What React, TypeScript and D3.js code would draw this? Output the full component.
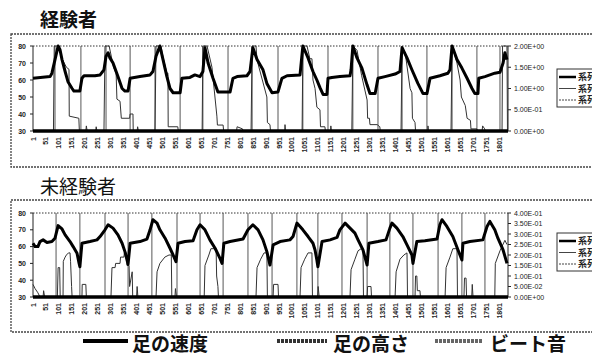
import React from 'react';
import * as d3 from 'd3';

type Pt = [number, number];

// axis values
const xTicks = d3.range(1, 1802, 50);
const leftTicks = [30, 40, 50, 60, 70, 80];
const topRightTicks = [0, 0.5, 1, 1.5, 2];
const bottomRightTicks = [0, 0.05, 0.1, 0.15, 0.2, 0.25, 0.3, 0.35, 0.4];
const seriesNames = ['系列1', '系列2', '系列3'];
const legendLabels = ['足の速度', '足の高さ', 'ビート音'];

// 経験者 : thick curve (left axis)
const topHeight: Pt[] = [
  [1, 61], [67, 62], [74, 64], [86, 72], [98, 80], [105, 78], [113, 72], [125, 65], [136, 59], [152, 55], [159, 53.5], [182, 53.5],
  [190, 61], [198, 62.5], [240, 62.5], [260, 63], [275, 66], [283, 74], [291, 76],
  [298, 73], [310, 70], [329, 62], [345, 55], [356, 53.5], [368, 53.5], [376, 61], [414, 62], [453, 63], [464, 65], [476, 74], [491, 80],
  [503, 72], [518, 62], [530, 55], [542, 52.5], [569, 52.5], [576, 61], [607, 61.5], [626, 63], [646, 62], [657, 65], [665, 79],
  [677, 70], [696, 61], [715, 53], [762, 53], [773, 61], [789, 62], [827, 62.5], [839, 65], [850, 79],
  [866, 72], [889, 66], [904, 58], [924, 52.5], [947, 53], [962, 61], [982, 62.5], [1032, 63], [1043, 80],
  [1063, 73], [1082, 65], [1097, 60], [1109, 55.5], [1121, 51.5], [1136, 51.5], [1140, 61], [1155, 61.5], [1186, 62], [1225, 62.5], [1229, 66], [1236, 80],
  [1252, 73], [1271, 67], [1291, 57], [1302, 52], [1322, 52], [1333, 61], [1360, 62], [1399, 63.5], [1418, 65], [1426, 79],
  [1445, 73], [1464, 66], [1487, 58], [1507, 52], [1522, 52], [1534, 61], [1572, 62.5], [1603, 64], [1611, 66], [1619, 80],
  [1638, 72], [1657, 67], [1677, 61], [1696, 55], [1707, 52], [1719, 52], [1722, 61], [1746, 62], [1784, 64], [1804, 64.5],
  [1816, 70], [1823, 76], [1831, 72],
];

// 経験者 : thin series (right axis)
const topSpeed: Pt[] = [
  [1, 0], [80, 0], [83, 2], [101, 2], [113, 1.7], [130, 1.5], [140, 1.45], [141, 0.35], [178, 0.3], [180, 0],
  [205, 0], [207, 0.12], [210, 0], [243, 0], [245, 0.1], [248, 0],
  [275, 0], [279, 2], [295, 2], [312, 1.5], [322, 1.35], [325, 0.75], [337, 0.7], [342, 0.3], [374, 0.3], [376, 0.4], [387, 0.4], [388, 0],
  [403, 0], [405, 0.1], [408, 0],
  [472, 0], [476, 2], [495, 2], [503, 1.74], [518, 1.36], [522, 1.36], [523, 0.1], [560, 0.1], [562, 0],
  [654, 0], [657, 2], [673, 2], [692, 1.5], [711, 0.35], [713, 0.14], [735, 0.14], [737, 0],
  [787, 0], [789, 0.1], [810, 0.05], [812, 0],
  [843, 0], [847, 2], [862, 2], [866, 1.67], [904, 0.8], [906, 0.2], [916, 0.15], [918, 0],
  [973, 0], [974, 0.15], [976, 0],
  [1040, 0], [1043, 2], [1059, 2], [1070, 1.7], [1078, 1.7], [1082, 1.2], [1090, 1.0], [1097, 0.56], [1109, 0.5], [1111, 0.1], [1128, 0.1], [1130, 0],
  [1150, 0], [1151, 0.12], [1153, 0],
  [1232, 0], [1236, 2], [1252, 1.9], [1270, 1.3], [1291, 0.73], [1293, 0.3], [1300, 0.3], [1302, 0.15], [1330, 0.15], [1340, 0.1], [1342, 0],
  [1422, 0], [1426, 2], [1440, 1.75], [1457, 1.0], [1464, 0.9], [1466, 0.3], [1476, 0.2], [1478, 0],
  [1525, 0], [1526, 0.12], [1528, 0],
  [1615, 0], [1619, 2], [1638, 1.6], [1650, 1.2], [1655, 0.8], [1670, 0.6], [1677, 0.3], [1690, 0.25], [1692, 0.05], [1715, 0.05], [1717, 0],
  [1735, 0], [1737, 0.12], [1745, 0.05], [1747, 0],
  [1812, 0], [1814, 2], [1831, 2], [1833, 0],
];

const topBeats = [86, 186, 283, 376, 472, 569, 657, 754, 847, 947, 1043, 1140, 1236, 1333, 1426, 1522, 1619, 1715, 1804];

// 未経験者 : thick curve (left axis)
const bottomHeight: Pt[] = [
  [1, 62], [9, 60], [20, 60], [28, 63], [40, 64], [55, 62.5], [74, 63], [86, 65], [98, 72.5],
  [113, 70.5], [125, 67], [144, 63], [156, 60], [171, 56], [179, 50], [182, 48], [190, 62], [221, 63], [248, 64], [260, 66], [279, 70], [291, 73],
  [310, 71], [329, 67], [345, 62], [356, 57], [368, 49.5], [376, 62], [414, 63], [441, 64.5], [453, 70], [464, 76],
  [480, 74], [491, 70], [511, 65], [530, 59], [542, 55], [553, 51], [561, 62], [588, 63], [619, 63.5], [634, 70], [646, 73],
  [665, 70], [684, 64], [704, 59], [723, 53], [731, 50], [738, 62], [762, 63], [812, 64.5], [831, 70], [850, 73],
  [870, 70], [889, 64], [904, 57], [916, 49], [928, 61], [955, 63], [993, 64], [1005, 66], [1020, 74],
  [1032, 72], [1043, 70], [1063, 66], [1082, 62], [1090, 58], [1097, 52], [1101, 48], [1117, 63], [1148, 64], [1175, 65.5], [1186, 70], [1206, 74],
  [1225, 71], [1244, 68], [1256, 64], [1275, 58], [1291, 49], [1298, 62], [1333, 63], [1364, 64], [1379, 71], [1387, 74],
  [1406, 71], [1429, 66], [1445, 61], [1464, 55], [1468, 50], [1483, 63], [1514, 63.5], [1561, 64.5], [1572, 73], [1580, 76],
  [1599, 72], [1622, 66], [1642, 58], [1657, 52], [1661, 62], [1688, 63], [1738, 64], [1754, 72], [1765, 75],
  [1784, 70], [1796, 65], [1816, 58], [1831, 50],
];

// 未経験者 : thin series (right axis)
const bottomSpeed: Pt[] = [
  [1, 0.06], [9, 0.04], [20, 0.02], [28, 0], [40, 0], [42, 0.03], [46, 0],
  [95, 0], [98, 0.14], [104, 0.14], [106, 0], [117, 0], [118, 0.17], [125, 0.19], [130, 0.2], [138, 0.21], [144, 0.21], [146, 0.17], [150, 0.05], [152, 0],
  [190, 0], [191, 0.06], [205, 0.06], [207, 0],
  [302, 0], [306, 0.14], [318, 0.14], [320, 0.16], [337, 0.16], [339, 0.19], [352, 0.19], [354, 0.21], [362, 0.21], [364, 0.15], [372, 0.15], [374, 0.05], [384, 0.12], [386, 0],
  [401, 0], [403, 0.05], [406, 0],
  [476, 0], [480, 0.12], [491, 0.16], [510, 0.19], [526, 0.2], [535, 0.2], [537, 0], [549, 0], [551, 0.04], [555, 0],
  [662, 0], [665, 0.15], [680, 0.2], [688, 0.23], [708, 0.23], [710, 0.1], [715, 0.05], [717, 0],
  [862, 0], [866, 0.14], [880, 0.18], [893, 0.21], [904, 0.21], [906, 0], [928, 0], [930, 0.06], [947, 0.06], [949, 0],
  [1032, 0], [1036, 0.14], [1050, 0.18], [1063, 0.21], [1078, 0.21], [1080, 0], [1100, 0], [1102, 0.05], [1106, 0],
  [1225, 0], [1229, 0.13], [1244, 0.18], [1256, 0.22], [1268, 0.23], [1275, 0.23], [1277, 0], [1291, 0], [1293, 0.05], [1306, 0.05], [1308, 0],
  [1399, 0], [1403, 0.12], [1418, 0.18], [1433, 0.2], [1445, 0.21], [1447, 0], [1476, 0], [1478, 0.1], [1483, 0.1], [1485, 0.03], [1495, 0.03], [1497, 0],
  [1592, 0], [1596, 0.14], [1611, 0.19], [1622, 0.23], [1638, 0.23], [1640, 0], [1665, 0], [1667, 0.09], [1673, 0.09], [1675, 0], [1695, 0], [1697, 0.06], [1700, 0],
  [1784, 0], [1786, 0.16], [1804, 0.22], [1823, 0.27], [1831, 0.25],
];

const bottomBeats = [90, 182, 279, 368, 460, 557, 646, 735, 831, 924, 1020, 1101, 1194, 1291, 1379, 1468, 1565, 1657, 1746];

const NUM_FONT = '"Liberation Sans", Arial, sans-serif';
const JP_FONT = '"Noto Sans CJK JP", "Noto Sans", sans-serif';

const sci = (v: number) => {
  const [m, e] = v.toExponential(2).split('e');
  return m + 'E' + e[0] + e.slice(1).padStart(2, '0');
};

const x = d3.scaleLinear().domain([1, 1835]).range([33, 508]);

function Panel(props: {
  boxTop: number; boxBottom: number; plotTop: number; plotBottom: number;
  title: string; bold: boolean; titleY: number; legendTop: number;
  height: Pt[]; speed: Pt[]; beats: number[]; rightMax: number; rightTicks: number[];
}) {
  const { boxTop, boxBottom, plotTop, plotBottom, title, bold, titleY, legendTop, height, speed, beats, rightMax, rightTicks } = props;
  const yL = d3.scaleLinear().domain([30, 80]).range([plotBottom, plotTop]);
  const yR = d3.scaleLinear().domain([0, rightMax]).range([plotBottom, plotTop]);
  const lineL = d3.line<Pt>().x(d => x(d[0])).y(d => yL(d[1]));
  const lineR = d3.line<Pt>().x(d => x(d[0])).y(d => yR(d[1]));
  const [x0, x1] = x.range();

  return (
    <g>
      <text x={40} y={titleY} fontFamily={JP_FONT} fontSize={19} fontWeight={bold ? 700 : 400} fill="#111">{title}</text>
      <rect x={11} y={boxTop} width={600} height={boxBottom - boxTop} fill="none" stroke="#444" strokeWidth={1.3} strokeDasharray="2 1" />

      {/* plot frame */}
      <line x1={x0} x2={x1} y1={plotTop} y2={plotTop} stroke="#333" strokeWidth={1} strokeDasharray="1.5 1.5" />
      <line x1={x0} x2={x0} y1={plotTop} y2={plotBottom} stroke="#222" strokeWidth={1} />
      <line x1={x1} x2={x1} y1={plotTop} y2={plotBottom} stroke="#222" strokeWidth={1} />

      {/* beat lines */}
      {beats.map((b, i) => (
        <line key={i} x1={x(b)} x2={x(b)} y1={yR(0)} y2={yR(rightMax)} stroke="#444" strokeWidth={0.9} />
      ))}

      <path d={lineR(speed) ?? ''} fill="none" stroke="#333" strokeWidth={1} />
      <path d={lineL(height) ?? ''} fill="none" stroke="#000" strokeWidth={3} strokeLinejoin="round" />

      {/* bottom axis */}
      <line x1={x0} x2={x1} y1={plotBottom} y2={plotBottom} stroke="#000" strokeWidth={3.5} />
      {xTicks.map(t => (
        <text key={t} transform={`translate(${x(t) + 2.5},${plotBottom + 6}) rotate(-90)`} textAnchor="end"
          fontFamily={NUM_FONT} fontSize={7} fontWeight={700} fill="#222">{t}</text>
      ))}

      {/* left axis */}
      {leftTicks.map(t => (
        <g key={t}>
          <line x1={x0 - 3} x2={x0} y1={yL(t)} y2={yL(t)} stroke="#222" />
          <text x={26} y={yL(t) + 2.5} textAnchor="end" fontFamily={NUM_FONT} fontSize={7} fontWeight={700} fill="#222">{t}</text>
        </g>
      ))}

      {/* right axis */}
      {rightTicks.map(t => (
        <g key={t}>
          <line x1={x1} x2={x1 + 3} y1={yR(t)} y2={yR(t)} stroke="#222" />
          <text x={514} y={yR(t) + 2.5} fontFamily={NUM_FONT} fontSize={7} fill="#222">{sci(t)}</text>
        </g>
      ))}

      {/* series legend */}
      <rect x={557} y={legendTop} width={60} height={38} fill="#fff" stroke="#333" strokeWidth={1} />
      {seriesNames.map((s, i) => (
        <g key={s}>
          <line x1={559} x2={576} y1={legendTop + 8 + i * 11.5} y2={legendTop + 8 + i * 11.5}
            stroke={i === 0 ? '#000' : '#444'} strokeWidth={i === 0 ? 2.5 : 1} strokeDasharray={i === 2 ? '2 1' : undefined} />
          <text x={578} y={legendTop + 11 + i * 11.5} fontFamily={JP_FONT} fontSize={9} fontWeight={700} fill="#222">{s}</text>
        </g>
      ))}
    </g>
  );
}

export default function App() {
  const legendSamples = [
    { x1: 83, x2: 128, tx: 132, color: '#000', dash: undefined as string | undefined },
    { x1: 277, x2: 327, tx: 333, color: '#333', dash: '3 1' },
    { x1: 435, x2: 483, tx: 490, color: '#666', dash: '3 1' },
  ];
  return (
    <svg width={592} height={353} style={{ position: 'absolute', left: 0, top: 0, background: '#fff' }}>
      <Panel boxTop={34} boxBottom={167} plotTop={46} plotBottom={131} title="経験者" bold titleY={27} legendTop={69}
        height={topHeight} speed={topSpeed} beats={topBeats} rightMax={2} rightTicks={topRightTicks} />
      <Panel boxTop={200} boxBottom={332} plotTop={213} plotBottom={297} title="未経験者" bold={false} titleY={194} legendTop={233}
        height={bottomHeight} speed={bottomSpeed} beats={bottomBeats} rightMax={0.4} rightTicks={bottomRightTicks} />
      {legendLabels.map((l, i) => (
        <g key={l}>
          <line x1={legendSamples[i].x1} x2={legendSamples[i].x2} y1={341} y2={341}
            stroke={legendSamples[i].color} strokeWidth={4} strokeDasharray={legendSamples[i].dash} />
          <text x={legendSamples[i].tx} y={351} fontFamily={JP_FONT} fontSize={19} fontWeight={700} fill="#111">{l}</text>
        </g>
      ))}
    </svg>
  );
}
